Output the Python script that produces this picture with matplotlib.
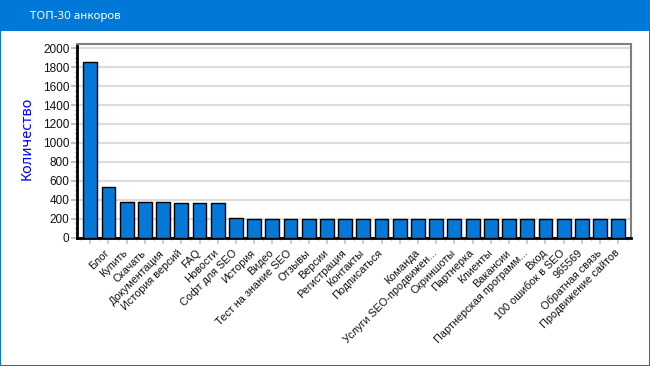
import numpy as np
import matplotlib
matplotlib.use('Agg')
import matplotlib.pyplot as plt
from matplotlib.patches import Rectangle
from matplotlib.transforms import ScaledTranslation

plt.rcParams['font.family'] = ['Liberation Sans', 'DejaVu Sans']

# Values
anchors = ['', 'Блог', 'Купить', 'Скачать', 'Документация', 'История версий', 'FAQ',
           'Новости', 'Софт для SEO', 'История', 'Видео', 'Тест на знание SEO', 'Отзывы',
           'Версии', 'Регистрация', 'Контакты', 'Подписаться', '', 'Команда',
           'Услуги SEO-продвижен...', 'Скриншоты', 'Партнерка', 'Клиенты', 'Вакансии',
           'Партнерская программ...', 'Вход', '100 ошибок в SEO', '965569',
           'Обратная связь', 'Продвижение сайтов']
counts = [1850, 536, 378, 378, 378, 367, 367, 367, 202, 191,
          191, 191, 191, 191, 191, 191, 191, 191, 191, 191,
          191, 191, 191, 191, 191, 191, 191, 191, 191, 191]
y_ticks = [0, 200, 400, 600, 800, 1000, 1200, 1400, 1600, 1800, 2000]

W, H = 650, 366
fig = plt.figure(figsize=(W / 100, H / 100), dpi=100, facecolor='white')

# window chrome
blue = '#0078d7'
fig.add_artist(Rectangle((0, 1 - 31 / H), 1, 31 / H, transform=fig.transFigure, color=blue, lw=0))
fig.add_artist(Rectangle((0, 0), 1 / W, 1, transform=fig.transFigure, color=blue, lw=0))
fig.add_artist(Rectangle((1 - 1 / W, 0), 1 / W, 1, transform=fig.transFigure, color=blue, lw=0))
fig.add_artist(Rectangle((0, 0), 1, 1 / H, transform=fig.transFigure, color=blue, lw=0))
fig.text(30 / W, 1 - 16 / H, 'ТОП-30 анкоров', color='white', fontsize=8.3,
         family=['Noto Sans', 'DejaVu Sans'], va='center', ha='left')

# title bar icon
icon = fig.add_axes([10 / W, 1 - 22 / H, 14 / W, 14 / H])
icon.set_xlim(0, 14)
icon.set_ylim(0, 14)
icon.axis('off')
icon.add_patch(Rectangle((0.5, 0.5), 13, 13, fc='#f4f0dc', ec='#8a7a60', lw=0.8))
icon.add_patch(Rectangle((0.5, 10.5), 13, 3, fc='#5fa8d8', lw=0))
icon.bar([3.5, 7, 10.5], [5, 7, 4], width=3, bottom=2, color=['#d03020', '#e8b020', '#30a040'])

# close button
close = fig.add_axes([0, 0, 1, 1], facecolor='none')
close.set_xlim(0, W)
close.set_ylim(H, 0)
close.axis('off')
close.plot([629.5, 639.5], [10.5, 20.5], color='white', lw=1)
close.plot([629.5, 639.5], [20.5, 10.5], color='white', lw=1)

# plot area
left, right, top, bottom = 77, 631, 44, 237.5
ax = fig.add_axes([left / W, 1 - bottom / H, (right - left) / W, (bottom - top) / H])
x = np.arange(len(counts))
ax.bar(x, counts, width=0.76, color='#0678d8', edgecolor='black', linewidth=1, zorder=3)
ax.set_xlim(-0.73, 29.7)
ax.set_ylim(0, 2045)

ax.set_yticks(y_ticks)
ax.set_yticks(np.arange(0, 2001, 50), minor=True)
ax.set_xticks(x)
ax.set_xticks(np.arange(-0.5, 30, 0.5), minor=True)
ax.set_xticklabels(anchors, rotation=45, ha='right', rotation_mode='anchor', fontsize=7.85, color='#111111')
ax.tick_params(axis='x', which='major', length=4, width=1.5, color='#d0d0d0', pad=3.5)
ax.tick_params(axis='x', which='minor', length=2.5, width=1, color='#d8d8d8')
ax.tick_params(axis='y', which='major', length=4.5, width=1.5, color='#c0c0c0', labelsize=8.5, pad=1, labelcolor='#111111')
ax.tick_params(axis='y', which='minor', length=2.5, width=1, color='#d0d0d0')

# labels end on the bar centre in the original
shift = ScaledTranslation(-4 / 100, 0, fig.dpi_scale_trans)
for lab in ax.get_xticklabels():
    lab.set_transform(lab.get_transform() + shift)

ax.grid(axis='y', which='major', color='#dcdcdc', lw=1.6, zorder=0)
ax.set_axisbelow(True)
for side, col, lw in [('left', 'black', 2), ('bottom', 'black', 2), ('top', '#808080', 1.5), ('right', '#808080', 1.5)]:
    ax.spines[side].set_color(col)
    ax.spines[side].set_linewidth(lw)

fig.text(27 / W, 1 - 138 / H, 'Количество', color='#0000ff', fontsize=10.5, rotation=90,
         va='center', ha='center', family=['Noto Sans', 'DejaVu Sans'])

plt.savefig('out.png', dpi=100, facecolor='white')
plt.close()
